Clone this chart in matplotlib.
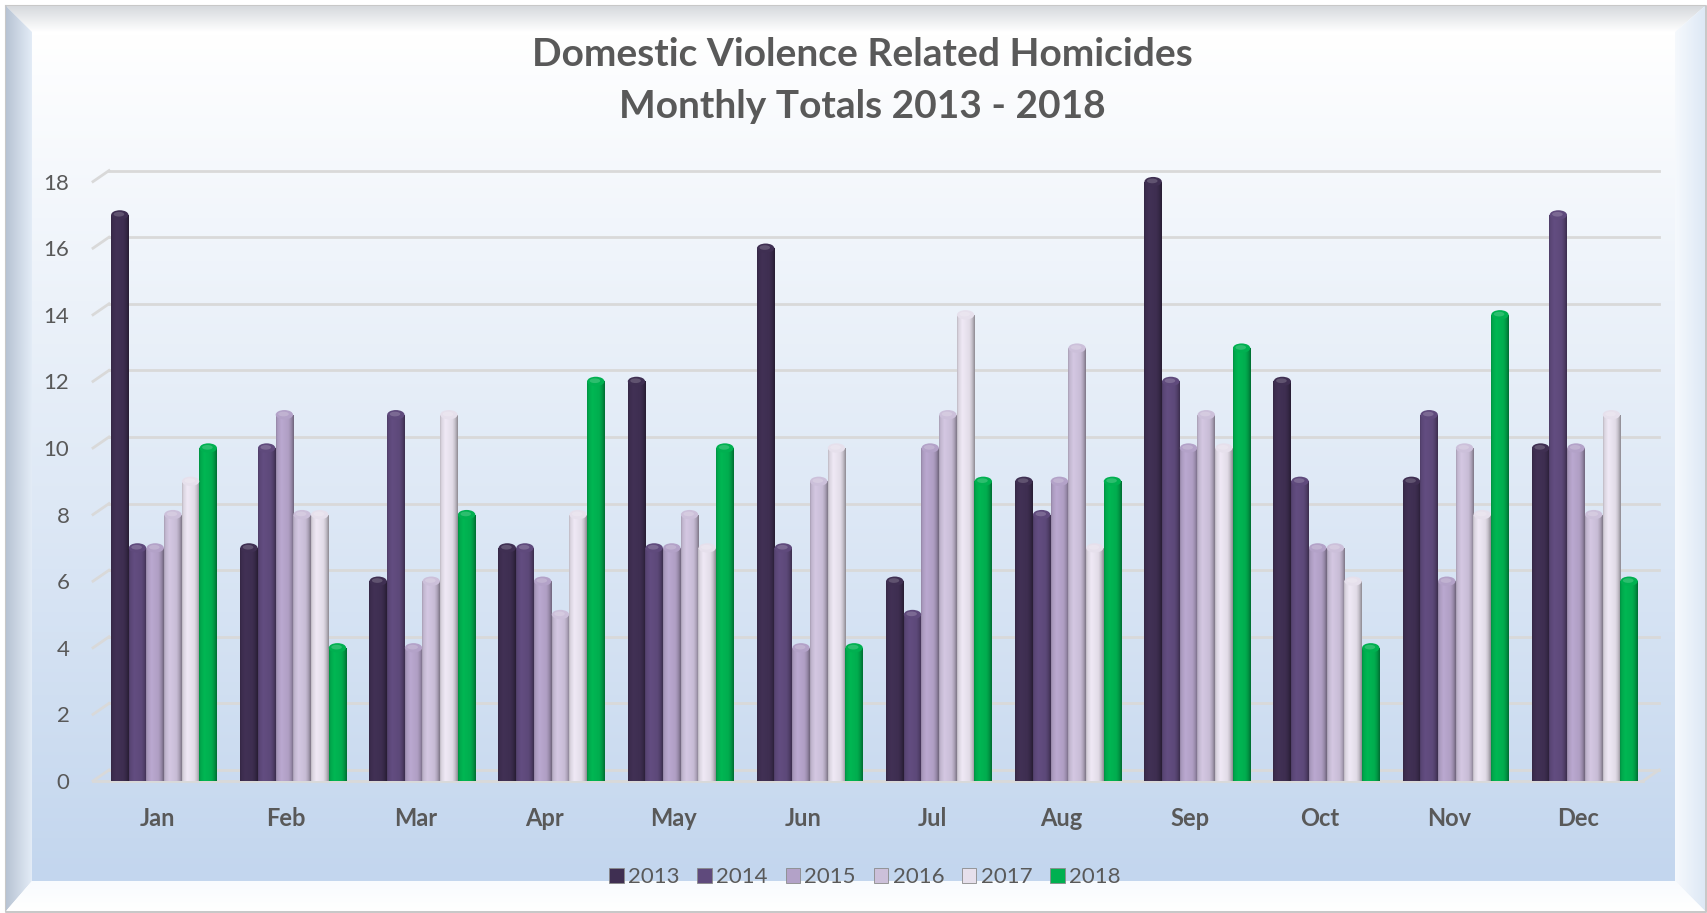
import numpy as np
import matplotlib
matplotlib.use("Agg")
import matplotlib.pyplot as plt
from matplotlib import transforms
from matplotlib.patches import Patch, Polygon, Ellipse
from matplotlib.colors import to_rgb

plt.rcParams['font.family'] = ['Lato', 'DejaVu Sans']

# ------------------------------------------------------------------ data
months = ['Jan', 'Feb', 'Mar', 'Apr', 'May', 'Jun', 'Jul', 'Aug', 'Sep', 'Oct', 'Nov', 'Dec']
years = ['2013', '2014', '2015', '2016', '2017', '2018']
v2013 = [17, 7, 6, 7, 12, 16, 6, 9, 18, 12, 9, 10]
v2014 = [7, 10, 11, 7, 7, 7, 5, 8, 12, 9, 11, 17]
v2015 = [7, 11, 4, 6, 7, 4, 10, 9, 10, 7, 6, 10]
v2016 = [8, 8, 6, 5, 8, 9, 11, 13, 11, 7, 10, 8]
v2017 = [9, 8, 11, 8, 7, 10, 14, 7, 10, 6, 8, 11]
v2018 = [10, 4, 8, 12, 10, 4, 9, 9, 13, 4, 14, 6]
series = [v2013, v2014, v2015, v2016, v2017, v2018]
colors = ['#3f2f52', '#5f4a7c', '#b3a2c8', '#ccc0da', '#e6e0ec', '#00b050']
yticks = list(range(0, 19, 2))

W, H = 1707, 913
text_grey = '#595959'

fig = plt.figure(figsize=(W / 100, H / 100), dpi=100)


def grad_img(c_from, c_to, n=256, horizontal=False):
    a = np.array(to_rgb(c_from))
    b = np.array(to_rgb(c_to))
    t = np.linspace(0, 1, n)[:, None]
    img = a + (b - a) * t
    img = img[None, :, :] if horizontal else img[:, None, :]
    return img


# ------------------------------------------------------------------ background frame (pixel coords)
bg = fig.add_axes([0, 0, 1, 1], zorder=-10)
bg.set_xlim(0, W)
bg.set_ylim(H, 0)
bg.axis('off')

o, i = 6, 32          # outer frame edge, inner panel edge
bg.plot([o, W - 1, W - 1, o, o], [o, o, H - 1, H - 1, o], color='#c8c8c8', lw=1.5)

# inner panel gradient
bg.imshow(grad_img('#ffffff', '#c3d6ee'), extent=(i, W - i, H - i, i), aspect='auto', zorder=1)

# bevels
bevels = [
    ([(o, o), (W - 2, o), (W - i, i), (i, i)], '#d6d9dd', '#ffffff', False),          # top
    ([(o, o), (i, i), (i, H - i), (o, H - 2)], '#b7c3d3', '#e3ecf7', True),            # left
    ([(W - 2, o), (W - 2, H - 2), (W - i, H - i), (W - i, i)], '#dde8f5', '#f6f9fd', True),  # right
    ([(o, H - 2), (i, H - i), (W - i, H - i), (W - 2, H - 2)], '#f8fbfe', '#ffffff', False),  # bottom
]
for pts, c1, c2, horiz in bevels:
    poly = Polygon(pts, closed=True, facecolor='none', edgecolor='none')
    bg.add_patch(poly)
    xs = [p[0] for p in pts]
    ys = [p[1] for p in pts]
    im = bg.imshow(grad_img(c1, c2, horizontal=horiz), extent=(min(xs), max(xs), max(ys), min(ys)),
                   aspect='auto', zorder=2)
    if pts[0] == (W - 2, o):
        im.set_data(grad_img(c2, c1, horizontal=True))
    im.set_clip_path(poly)

# ------------------------------------------------------------------ main axes
y0_px, unit_px = 781, 33.3
ytop = 18.6
x_left, x_right = 93, 1643
ax = fig.add_axes([x_left / W, (H - y0_px) / H, (x_right - x_left) / W, ytop * unit_px / H])
ax.patch.set_alpha(0)
ax.set_xlim(-0.55, 11.45)
ax.set_ylim(0, ytop)
for s in ax.spines.values():
    s.set_visible(False)

# back-wall gridlines, shifted up/right for the 3-D look
back = transforms.ScaledTranslation(0.16, 0.11, fig.dpi_scale_trans)
grid_c = '#d9d9d9'
inv = fig.transFigure.inverted()
for v in yticks:
    ax.plot([-0.55, 11.45], [v, v], color=grid_c, lw=2, zorder=1,
            transform=ax.transData + back, clip_on=False)
    # slant from front-left to back-left
    p0 = ax.transData.transform((-0.55, v))
    p1 = (ax.transData + back).transform((-0.55, v))
    a0, a1 = inv.transform(p0), inv.transform(p1)
    fig.add_artist(plt.Line2D([a0[0], a1[0]], [a0[1], a1[1]], color=grid_c, lw=2, zorder=1))
# floor front edge and right slant
ax.plot([-0.55, 11.45], [0, 0], color=grid_c, lw=2, zorder=1, clip_on=False)
p0 = ax.transData.transform((11.45, 0))
p1 = (ax.transData + back).transform((11.45, 0))
a0, a1 = inv.transform(p0), inv.transform(p1)
fig.add_artist(plt.Line2D([a0[0], a1[0]], [a0[1], a1[1]], color=grid_c, lw=2, zorder=1))

# bars with cylinder shading
x = np.arange(len(months))
bw = 0.137
prof_t = np.linspace(0, 1, 64)
prof = np.interp(prof_t, [0, 0.08, 0.3, 0.7, 0.85, 1.0], [0.82, 0.95, 1.04, 0.98, 0.85, 0.62])

for k, (vals, col) in enumerate(zip(series, colors)):
    xpos = x + (k - 2.5) * bw
    bars = ax.bar(xpos, vals, width=bw, color=col, zorder=3 + k * 0.01, linewidth=0)
    base = np.array(to_rgb(col))
    img = np.clip(base[None, None, :] * prof[None, :, None], 0, 1)
    light = np.clip(base + (1 - base) * 0.35, 0, 1)
    for b in bars:
        bx, bwid, bh = b.get_x(), b.get_width(), b.get_height()
        im = ax.imshow(img, extent=(bx, bx + bwid, 0, bh), aspect='auto', zorder=3.5 + k * 0.01,
                       interpolation='bilinear')
        im.set_clip_path(b)
        cap = Ellipse((bx + bwid / 2, bh), bwid * 0.98, 0.28, facecolor=col, edgecolor='none',
                      zorder=3.6 + k * 0.01)
        ax.add_patch(cap)
        hl = Ellipse((bx + bwid * 0.45, bh + 0.02), bwid * 0.6, 0.14, facecolor=light,
                     edgecolor='none', alpha=0.5, zorder=3.7 + k * 0.01)
        ax.add_patch(hl)

# ticks
ax.set_yticks(yticks)
ax.set_yticklabels([str(v) for v in yticks], fontsize=16, color=text_grey)
ax.tick_params(axis='y', length=0, pad=17)
ax.set_xticks(x)
ax.set_xticklabels(months, fontsize=17, fontweight='bold', color=text_grey)
ax.tick_params(axis='x', length=0, pad=19)
shift = transforms.ScaledTranslation(-0.07, 0, fig.dpi_scale_trans)
for lab in ax.get_xticklabels():
    lab.set_transform(lab.get_transform() + shift)

# title
fig.text(0.505, 1 - 55 / H, 'Domestic Violence Related Homicides', ha='center', va='center',
         fontsize=28, fontweight='bold', color=text_grey)
fig.text(0.505, 1 - 107 / H, 'Monthly Totals 2013 - 2018', ha='center', va='center',
         fontsize=28, fontweight='bold', color=text_grey)

# legend
handles = [Patch(facecolor=c, edgecolor='#8a8a8a', linewidth=0.6) for c in colors]
fig.legend(handles, years, loc='center', bbox_to_anchor=(865 / W, 1 - 877 / H), ncol=6,
           frameon=False, fontsize=16, labelcolor=text_grey, handlelength=0.65, handleheight=0.65,
           handletextpad=0.2, columnspacing=0.8)

fig.savefig('out.png', dpi=100)
